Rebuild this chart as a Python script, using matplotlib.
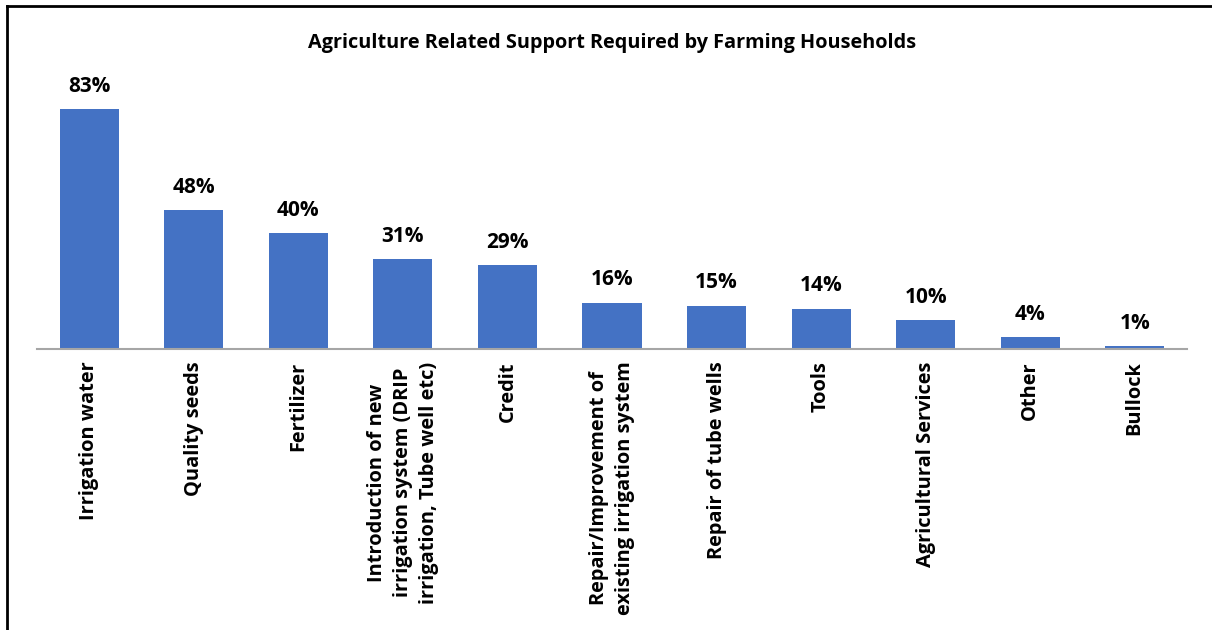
import matplotlib.pyplot as plt
from matplotlib.lines import Line2D

# donnees
categories = ['Irrigation water', 'Quality seeds', 'Fertilizer',
              'Introduction of new\nirrigation system (DRIP\nirrigation, Tube well etc)',
              'Credit', 'Repair/Improvement of\nexisting irrigation system',
              'Repair of tube wells', 'Tools', 'Agricultural Services', 'Other', 'Bullock']
valeurs = [83, 48, 40, 31, 29, 16, 15, 14, 10, 4, 1]
titre = 'Agriculture Related Support Required by Farming Households'

plt.rcParams['font.family'] = ['Open Sans', 'DejaVu Sans']

fig = plt.figure(figsize=(12.12, 6.3), dpi=100)
ax = fig.add_axes([37 / 1212, 1 - 349 / 630, 1150 / 1212, 260.1 / 630])

x = list(range(len(categories)))
ax.bar(x, valeurs, width=0.566, color='#4472C4')
ax.set_xlim(-0.5, len(categories) - 0.5)
ax.set_ylim(0, 90)

for xi, v in zip(x, valeurs):
    ax.annotate(f'{v}%', (xi, v), xytext=(0, 9), textcoords='offset points',
                ha='center', va='bottom', fontsize=15, fontweight='bold', clip_on=False)

ax.set_xticks(x)
ax.set_xticklabels(categories, rotation=90, fontsize=14.4, fontweight='bold',
                   ha='center', va='top', multialignment='center', linespacing=1.4)
ax.tick_params(axis='x', length=0, pad=9)
ax.set_yticks([])

for s in ['top', 'right', 'left']:
    ax.spines[s].set_visible(False)
ax.spines['bottom'].set_color('#A6A6A6')
ax.spines['bottom'].set_linewidth(1.5)

fig.text(612 / 1212, 1 - 43 / 630, titre, ha='center', va='center',
         fontsize=14.3, fontweight='bold')

# cadre (gauche et haut)
fig.add_artist(Line2D([7 / 1212, 7 / 1212], [0, 1 - 6 / 630], color='black', lw=2,
                      transform=fig.transFigure))
fig.add_artist(Line2D([7 / 1212, 1], [1 - 6 / 630, 1 - 6 / 630], color='black', lw=2,
                      transform=fig.transFigure))

fig.savefig('out.png', dpi=100)
